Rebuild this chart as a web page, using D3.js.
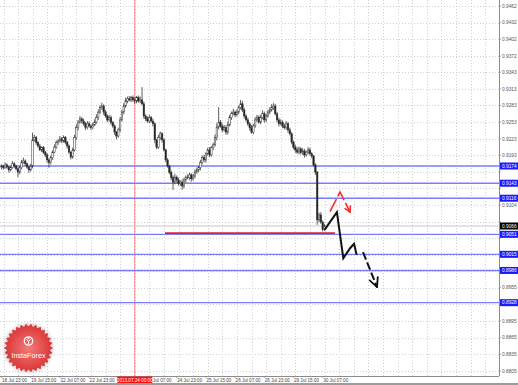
<!DOCTYPE html>
<html><head><meta charset="utf-8">
<script src="https://cdn.jsdelivr.net/npm/d3@7"></script>
<style>body{margin:0;background:#fff;overflow:hidden}svg{display:block}</style>
</head><body>
<script>
// ---- data ----
const firstOpen = 0.9171;
const closes = [
0.9174,0.9171,0.9176,0.9172,0.9167,0.9171,0.9178,0.9174,0.9169,0.9163,0.9171,0.9180,0.9183,0.9178,0.9172,0.9167,0.9174,0.9221,0.9225,0.9216,
0.9210,0.9203,0.9207,0.9199,0.9194,0.9185,0.9180,0.9189,0.9199,0.9208,0.9216,0.9219,0.9223,0.9219,0.9225,0.9217,0.9210,0.9199,0.9190,0.9203,
0.9225,0.9243,0.9253,0.9259,0.9255,0.9250,0.9244,0.9250,0.9246,0.9243,0.9248,0.9253,0.9261,0.9271,0.9279,0.9282,0.9271,0.9264,0.9257,0.9261,
0.9252,0.9246,0.9235,0.9228,0.9239,0.9257,0.9271,0.9282,0.9291,0.9295,0.9293,0.9297,0.9293,0.9291,0.9297,0.9291,0.9293,0.9286,0.9264,0.9259,
0.9255,0.9261,0.9255,0.9250,0.9221,0.9208,0.9225,0.9232,0.9221,0.9203,0.9185,0.9174,0.9163,0.9153,0.9145,0.9154,0.9149,0.9142,0.9145,0.9138,
0.9149,0.9154,0.9153,0.9158,0.9151,0.9156,0.9163,0.9167,0.9171,0.9180,0.9189,0.9185,0.9196,0.9203,0.9194,0.9207,0.9212,0.9225,0.9244,0.9253,
0.9246,0.9239,0.9243,0.9235,0.9248,0.9261,0.9268,0.9271,0.9266,0.9271,0.9279,0.9286,0.9275,0.9264,0.9257,0.9250,0.9243,0.9235,0.9246,0.9257,
0.9262,0.9253,0.9261,0.9268,0.9257,0.9264,0.9271,0.9275,0.9279,0.9282,0.9268,0.9257,0.9250,0.9253,0.9246,0.9243,0.9250,0.9239,0.9232,0.9217,
0.9208,0.9203,0.9199,0.9205,0.9198,0.9201,0.9194,0.9199,0.9203,0.9196,0.9192,0.9176,0.9163,0.9077,0.9086,0.9073,0.9060,0.9066];
const upWick = [
3,2,4,3,2,3,5,3,2,3,4,5,6,3,2,3,4,13,5,3,
3,4,2,3,2,3,3,4,3,5,4,3,5,3,4,3,2,3,2,4,
5,6,4,5,3,4,3,5,4,3,4,5,6,5,4,6,3,4,3,5,
4,3,3,2,4,5,4,5,6,4,5,3,4,5,3,4,6,23,4,3,
4,5,3,4,3,2,5,4,3,3,2,3,2,3,4,6,3,4,3,5,
4,3,5,4,3,4,5,4,3,5,4,5,3,4,5,3,4,6,7,27,
4,3,5,4,6,5,4,6,3,5,4,7,5,4,3,4,3,5,4,5,
4,3,5,6,4,5,4,5,6,5,4,3,4,5,3,4,5,3,4,3,
3,4,5,4,3,5,4,3,5,4,3,2,3,2,4,5,3,4];
const downWick = [
3,4,2,3,5,3,2,4,3,9,4,3,2,4,3,5,3,4,3,4,
3,2,4,3,4,5,9,3,4,2,3,4,3,4,3,4,5,3,4,3,
3,4,5,3,4,3,5,4,3,4,3,2,3,4,3,4,5,3,4,3,
4,3,5,6,3,4,3,4,3,4,3,4,3,5,4,3,4,3,5,4,
3,4,3,5,6,4,3,4,5,3,4,3,4,5,14,4,5,3,4,7,
4,5,3,4,5,3,4,3,4,5,3,4,5,3,4,3,4,3,5,4,
3,4,3,5,4,3,4,3,4,3,4,3,4,5,3,4,5,3,4,3,
4,3,4,3,5,4,3,4,3,4,3,4,5,3,4,3,4,5,3,4,
4,5,3,4,3,4,5,3,4,3,4,3,5,9,4,3,4,3];
const priceTicks = [0.9462,0.9432,0.9402,0.9372,0.9343,0.9313,0.9283,0.9253,0.9223,0.9193,0.9164,0.9134,0.9104,0.9074,0.9044,0.9014,0.8985,0.8955,0.8925,0.8895,0.8865,0.8835,0.8805];
const timeLabels = ["18 Jul 23:00","19 Jul 15:00","22 Jul 07:00","22 Jul 23:00","23 Jul 15:00","24 Jul 07:00","24 Jul 23:00","25 Jul 15:00","26 Jul 07:00","26 Jul 23:00","29 Jul 15:00","30 Jul 07:00"];
const timeLabelStep = 16;
const levels = [0.9174,0.9143,0.9116,0.9051,0.9015,0.8986,0.8928];
const currentPrice = 0.9066;
const supportPrice = 0.9053, supportFrom = 89.6, supportTo = 182.7;
const markerBar = 73, markerLabel = "2013.07.24 00:00";
const forecastSolid = [[177,0.9059],[183.8,0.9091],[187.3,0.9008],[191,0.9026],[193.2,0.9034],[194.6,0.9014]];
const forecastDashed = [[198.1,0.9019],[205.8,0.8956]];
const redForecast = [[180,0.9092],[185.5,0.9127],[191,0.9091]];

// ---- chart ----
const W=518,H=385,PR=499,PB=376;
const svg=d3.select("body").append("svg").attr("width",W).attr("height",H);
const defs=svg.append("defs");
defs.append("clipPath").attr("id","plot").append("rect").attr("x",0).attr("y",0).attr("width",PR).attr("height",PB);
const x=d3.scaleLinear().domain([0,273]).range([1.5,499.7]);
const y=d3.scaleLinear().domain([0.8796,0.94728]).range([PB,0]);
const font="'Liberation Sans',Arial,sans-serif";

const g=svg.append("g").attr("clip-path","url(#plot)");
// grid
g.selectAll(".hg").data(priceTicks).join("line").attr("x1",0).attr("x2",PR)
 .attr("y1",d=>Math.round(y(d))+0.5).attr("y2",d=>Math.round(y(d))+0.5)
 .attr("stroke","#c4c4c4").attr("stroke-width",0.8).attr("stroke-dasharray","1,2");
g.selectAll(".vg").data(d3.range(0,273,8)).join("line")
 .attr("x1",d=>Math.round(x(d)+2)+0.5).attr("x2",d=>Math.round(x(d)+2)+0.5).attr("y1",0).attr("y2",PB)
 .attr("stroke","#c4c4c4").attr("stroke-width",0.8).attr("stroke-dasharray","1,2");

// red vertical marker
g.append("line").attr("x1",x(markerBar)).attr("x2",x(markerBar)).attr("y1",0).attr("y2",PB)
 .attr("stroke","#f58a8a").attr("stroke-width",1);

// horizontal levels
g.append("line").attr("x1",0).attr("x2",PR).attr("y1",y(currentPrice)).attr("y2",y(currentPrice))
 .attr("stroke","#c8c8c8").attr("stroke-width",1);
g.selectAll(".lv").data(levels).join("line").attr("x1",0).attr("x2",PR)
 .attr("y1",d=>y(d)).attr("y2",d=>y(d)).attr("stroke","#7b7bff").attr("stroke-width",1.4);
g.append("line").attr("x1",x(supportFrom)).attr("x2",x(supportTo)).attr("y1",y(supportPrice)).attr("y2",y(supportPrice))
 .attr("stroke","#e0202a").attr("stroke-width",1.8);

// candles
const bars=closes.map((c,i)=>{const o=i?closes[i-1]:firstOpen;
 return {i,o,c,h:Math.max(o,c)+upWick[i]*1e-4,l:Math.min(o,c)-downWick[i]*1e-4};});
const cg=g.append("g");
cg.selectAll(".wk").data(bars).join("line").attr("x1",d=>x(d.i)).attr("x2",d=>x(d.i))
 .attr("y1",d=>y(d.h)).attr("y2",d=>y(d.l)).attr("stroke","#333").attr("stroke-width",0.8);
cg.selectAll(".bd").data(bars).join("rect").attr("x",d=>x(d.i)-0.75).attr("width",1.5)
 .attr("y",d=>y(Math.max(d.o,d.c))).attr("height",d=>Math.max(0.6,Math.abs(y(d.o)-y(d.c))))
 .attr("fill",d=>d.c>=d.o?"#fff":"#222").attr("stroke","#333").attr("stroke-width",0.5);

// forecasts
const ln=d3.line().x(d=>x(d[0])).y(d=>y(d[1]));
function arrowHead(pts,len,ang,color,w){
 const a=pts[pts.length-2],b=pts[pts.length-1];
 const x1=x(a[0]),y1=y(a[1]),x2=x(b[0]),y2=y(b[1]);
 const th=Math.atan2(y2-y1,x2-x1)+Math.PI;
 [ang,-ang].forEach(s=>{g.append("line").attr("x1",x2).attr("y1",y2)
  .attr("x2",x2+len*Math.cos(th+s)).attr("y2",y2+len*Math.sin(th+s))
  .attr("stroke",color).attr("stroke-width",w).attr("stroke-linecap","round");});
}
g.append("path").attr("d",ln(redForecast)).attr("fill","none").attr("stroke","#ff2a2a")
 .attr("stroke-width",1.6).attr("stroke-dasharray","14,3");
arrowHead(redForecast,6,0.5,"#ff2a2a",1.6);
g.append("path").attr("d",ln(forecastSolid)).attr("fill","none").attr("stroke","#111")
 .attr("stroke-width",2).attr("stroke-linejoin","miter");
g.append("path").attr("d",ln(forecastDashed)).attr("fill","none").attr("stroke","#111")
 .attr("stroke-width",2).attr("stroke-dasharray","8,3");
arrowHead(forecastDashed,10,0.45,"#111",1.8);

// axes frame
svg.append("line").attr("x1",PR+0.5).attr("x2",PR+0.5).attr("y1",0).attr("y2",PB).attr("stroke","#8c8c8c").attr("stroke-width",1);
svg.append("line").attr("x1",0).attr("x2",PR).attr("y1",PB+0.5).attr("y2",PB+0.5).attr("stroke","#8c8c8c").attr("stroke-width",1);
svg.append("rect").attr("x",0).attr("y",383).attr("width",W).attr("height",2).attr("fill","#9c9c9c");

// price labels (grid labels hidden where a level box sits)
const boxVals=levels.concat([currentPrice]);
const shownTicks=priceTicks.filter(t=>boxVals.every(v=>Math.abs(y(v)-y(t))>6.5));
svg.selectAll(".pt").data(shownTicks).join("text").attr("x",502).attr("y",d=>y(d)+1.8)
 .attr("font-family",font).attr("font-size",4.8).attr("fill","#555").text(d=>d.toFixed(4));
svg.selectAll(".ptk").data(priceTicks).join("line").attr("x1",PR).attr("x2",PR+2)
 .attr("y1",d=>y(d)).attr("y2",d=>y(d)).attr("stroke","#888").attr("stroke-width",0.6);
const boxes=levels.map(v=>({v,bg:"#1a1aff"})).concat([{v:currentPrice,bg:"#000"}]);
const bg=svg.selectAll(".bx").data(boxes).join("g");
bg.append("rect").attr("x",500).attr("y",d=>y(d.v)-3.5).attr("width",18).attr("height",7).attr("fill",d=>d.bg);
bg.append("text").attr("x",502).attr("y",d=>y(d.v)+1.8).attr("font-family",font).attr("font-size",4.8)
 .attr("fill","#fff").text(d=>d.v.toFixed(4));

// time labels
const mx=x(markerBar), boxL=mx-17.5, boxR=mx+17.5;
defs.append("clipPath").attr("id","tclip").append("rect").attr("x",boxR).attr("y",370).attr("width",W).attr("height",15);
const tl=timeLabels.map((t,i)=>({t,px:x(i*timeLabelStep)}));
const under=d=>d.px+0.5>=boxL-1 && d.px+0.5<boxR;     // label starting beneath the marker box
svg.selectAll(".tl").data(tl.filter(d=>!under(d))).join("text").attr("x",d=>d.px+0.5).attr("y",381.6)
 .attr("font-family",font).attr("font-size",4.6).attr("fill","#444").text(d=>d.t);
// label partly covered by the marker box: only the visible tail, like the reference
tl.filter(d=>under(d) && d.px+25>boxR).forEach(d=>{
 svg.append("text").attr("x",boxR+0.8).attr("y",381.6).attr("font-family",font).attr("font-size",4.6)
  .attr("fill","#444").text(d.t.slice(3));
});
svg.selectAll(".tt").data(tl).join("line").attr("x1",d=>d.px).attr("x2",d=>d.px)
 .attr("y1",PB).attr("y2",PB+2).attr("stroke","#888").attr("stroke-width",0.6);
svg.append("rect").attr("x",boxL).attr("y",376.5).attr("width",35).attr("height",6.5).attr("fill","#ff1010");
svg.append("text").attr("x",mx).attr("y",381.6).attr("text-anchor","middle").attr("font-family",font)
 .attr("font-size",4.6).attr("fill","#fff").text(markerLabel);

// logo
const rg=defs.append("radialGradient").attr("id","lg");
rg.append("stop").attr("offset","0%").attr("stop-color","#f47a7a");
rg.append("stop").attr("offset","100%").attr("stop-color","#d93434");
const cx=28.5,cy=348,n=30;
const pts=d3.range(n*2).map(k=>{const r=k%2?21.5:24.5,a=k*Math.PI/n;return [cx+r*Math.cos(a),cy+r*Math.sin(a)];});
const lf=defs.append("filter").attr("id","sh").attr("x","-20%").attr("y","-20%").attr("width","140%").attr("height","140%");
lf.append("feGaussianBlur").attr("stdDeviation",1.5);
svg.append("circle").attr("cx",cx).attr("cy",cy).attr("r",25).attr("fill","#bbb").attr("opacity",0.5).attr("filter","url(#sh)");
svg.append("polygon").attr("points",pts.map(p=>p.join(",")).join(" ")).attr("fill","url(#lg)");
svg.append("circle").attr("cx",cx).attr("cy",cy-7).attr("r",4.2).attr("fill","none").attr("stroke","#fff").attr("stroke-width",1.3);
svg.append("path").attr("d",`M${cx-2},${cy-9} L${cx},${cy-6.5} L${cx+2},${cy-9} M${cx},${cy-6.5} L${cx},${cy-3.5}`)
 .attr("stroke","#fff").attr("stroke-width",1).attr("fill","none");
svg.append("circle").attr("cx",cx).attr("cy",cy-10).attr("r",0.9).attr("fill","#fff");
svg.append("text").attr("x",cx).attr("y",cy+10).attr("text-anchor","middle").attr("font-family",font)
 .attr("font-size",7.2).attr("fill","#fff").text("InstaForex");
</script>
</body></html>
